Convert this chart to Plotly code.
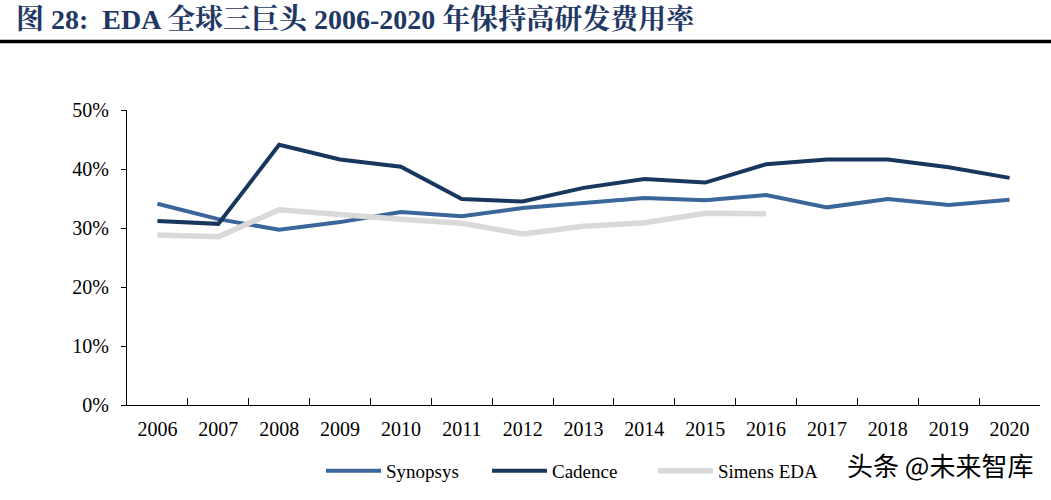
import plotly.graph_objects as go

years = [str(y) for y in range(2006, 2021)]
synopsys = [0.341, 0.315, 0.297, 0.310, 0.327, 0.320, 0.334, 0.342, 0.351, 0.347, 0.356, 0.335, 0.349, 0.339, 0.348]
cadence = [0.312, 0.307, 0.441, 0.416, 0.404, 0.349, 0.345, 0.368, 0.383, 0.377, 0.408, 0.416, 0.416, 0.403, 0.385]
simens = [0.288, 0.285, 0.331, 0.322, 0.315, 0.308, 0.290, 0.303, 0.309, 0.325, 0.324]
simens_years = years[:len(simens)]

title_text = "图 28:  EDA 全球三巨头 2006-2020 年保持高研发费用率"
watermark = "头条 @未来智库"

serif = "Liberation Serif, Noto Serif CJK SC, Noto Sans CJK SC, serif"

L, R, T, B = 127, 11, 110, 95
PW, PH = 1051 - L - R, 500 - T - B

fig = go.Figure()
fig.add_trace(go.Scatter(x=years, y=synopsys, name="Synopsys", mode="lines",
                         line=dict(color="#3A6699", width=4)))
fig.add_trace(go.Scatter(x=years, y=cadence, name="Cadence", mode="lines",
                         line=dict(color="#18375E", width=4)))
fig.add_trace(go.Scatter(x=simens_years, y=simens, name="Simens EDA", mode="lines",
                         line=dict(color="#D9D9D9", width=5.5)))

fig.update_layout(
    width=1051, height=500,
    paper_bgcolor="white", plot_bgcolor="white",
    margin=dict(l=L, r=R, t=T, b=B, autoexpand=False),
    font=dict(family=serif, size=19, color="#000000"),
    showlegend=True,
    legend=dict(orientation="h", xref="container", yref="paper",
                x=321 / 1051, y=-(471 - 405) / PH, xanchor="left", yanchor="middle",
                itemwidth=55, entrywidth=96, entrywidthmode="pixels",
                font=dict(family=serif, size=19, color="#000000"),
                bgcolor="rgba(0,0,0,0)"),
    title=dict(text="<b>" + title_text + "</b>", x=16 / 1051, xanchor="left",
               xref="container", yref="container", y=0.962, yanchor="middle",
               font=dict(family=serif, size=28, color="#1F3864")),
)

fig.update_xaxes(type="category", range=[-0.5, len(years) - 0.5], automargin=False,
                 showline=True, linecolor="#000000", linewidth=1.2,
                 ticks="inside", tickson="boundaries", ticklen=7, tickcolor="#000000",
                 ticklabelstandoff=6, showgrid=False, zeroline=False,
                 tickfont=dict(family=serif, size=20, color="#000000"))
fig.update_yaxes(range=[0, 0.5], dtick=0.1, tickformat=".0%", automargin=False,
                 showline=True, linecolor="#000000", linewidth=1.2, ticks="outside", ticklen=5,
                 tickcolor="#000000", ticklabelstandoff=8, showgrid=False, zeroline=False,
                 tickfont=dict(family=serif, size=20, color="#000000"))

fig.add_shape(type="line", xref="paper", yref="paper", x0=-L / PW, x1=(1051 - L) / PW,
              y0=1 + (T - 41.5) / PH, y1=1 + (T - 41.5) / PH,
              line=dict(color="#000000", width=3.5))

fig.add_annotation(text=watermark, xref="paper", yref="paper",
                   x=(1035 - L) / PW, y=-(464 - 405) / PH, xanchor="right", yanchor="middle",
                   showarrow=False,
                   font=dict(family="Noto Sans CJK SC, sans-serif", size=26, color="#000000"))

fig.write_html("out.html", config={"displayModeBar": False},
               post_script="document.body.style.margin='0px';document.body.style.overflow='hidden';")
